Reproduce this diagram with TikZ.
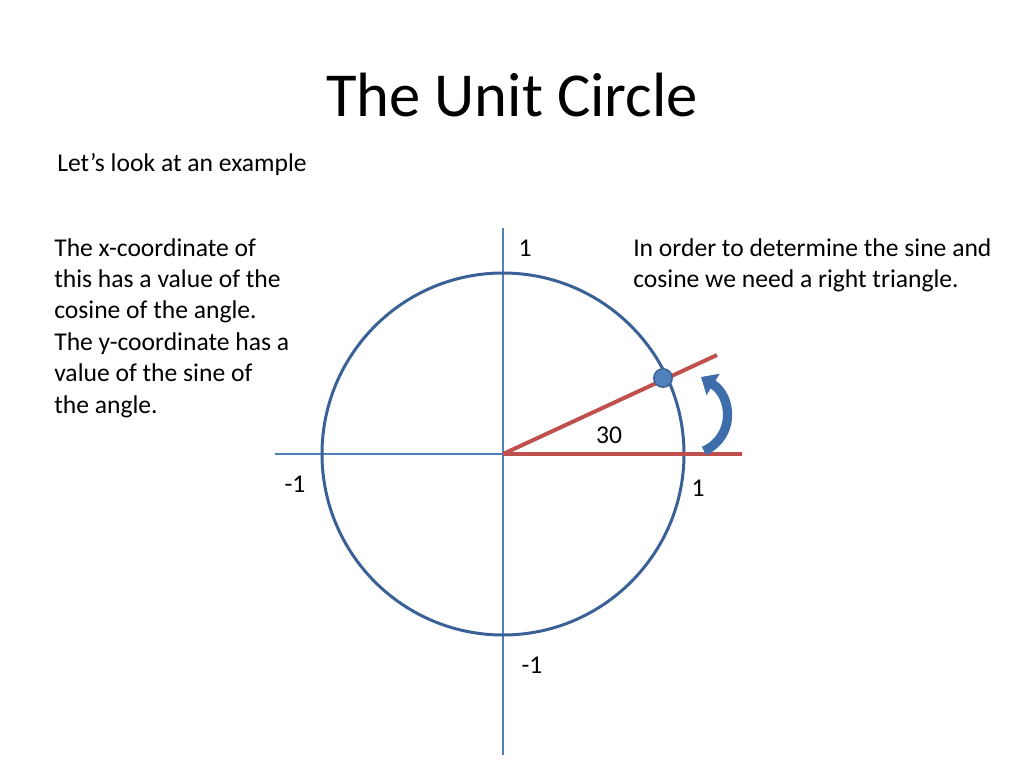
\documentclass[tikz,border=0pt]{standalone}
\usepackage{fontspec}
\setmainfont{Carlito}
\usetikzlibrary{arrows.meta}
\definecolor{circblue}{HTML}{3A6196}
\definecolor{axisblue}{HTML}{4F81BD}
\definecolor{rayred}{HTML}{C0504D}
\definecolor{dotblue}{HTML}{4F81BD}
\definecolor{arrowblue}{HTML}{3E6DAB}
\tikzset{
  body/.style={font=\fontsize{18}{22.1}\selectfont, inner sep=0pt, anchor=base west},
  lbl/.style={font=\fontsize{18}{22.1}\selectfont, inner sep=0pt, anchor=base}
}
\begin{document}
\begin{tikzpicture}[x=0.703125pt,y=-0.703125pt]
    \useasboundingbox (0,0) rectangle (1024,768);
    \node[inner sep=0pt,anchor=base,font=\fontsize{44}{52}\selectfont] (title) at (512,117) {The Unit Circle};
    \node[body] (intro) at (57,172) {Let’s look at an example};
    \node[body,align=left,anchor=north west] (xy) at (54,238)
         {The x-coordinate of\\this has a value of the\\cosine of the angle.\\The y-coordinate has a\\value of the sine of\\the angle.};
    \node[body,align=left,anchor=north west] (need) at (633,238)
         {In order to determine the sine and\\cosine we need a right triangle.};
    % axes and circle
    \coordinate (O) at (503,454);
    \coordinate (L) at (275,454);
    \coordinate (E) at (742,454);
    \coordinate (T) at (503,228);
    \coordinate (B) at (503,755);
    \draw[axisblue,line width=2.1pt] (L) -- (E) (T) -- (B);
    \draw[circblue,line width=2.1pt] (O) circle[radius=181];
    % the angle
    \coordinate (R) at (717,355);
    \draw[rayred,line width=2.8pt] (O) -- (E) (O) -- (R);
    \node[circle,fill=dotblue,draw=circblue,line width=1pt,minimum size=13pt,inner sep=0pt] (P) at (663,378) {};
    \draw[arrowblue,line width=6.5pt,-{Triangle[length=10pt,width=17pt]}]
         (704,451) .. controls (736,436) and (732,396) .. (701,377);
    % labels
    \node[lbl] (ytop) at (525,257) {1};
    \node[lbl] (xleft) at (295,492) {-1};
    \node[lbl] (xright) at (698,496) {1};
    \node[lbl] (ybot) at (532,673) {-1};
    \node[lbl] (ang) at (609,443) {30};
\end{tikzpicture}
\end{document}
